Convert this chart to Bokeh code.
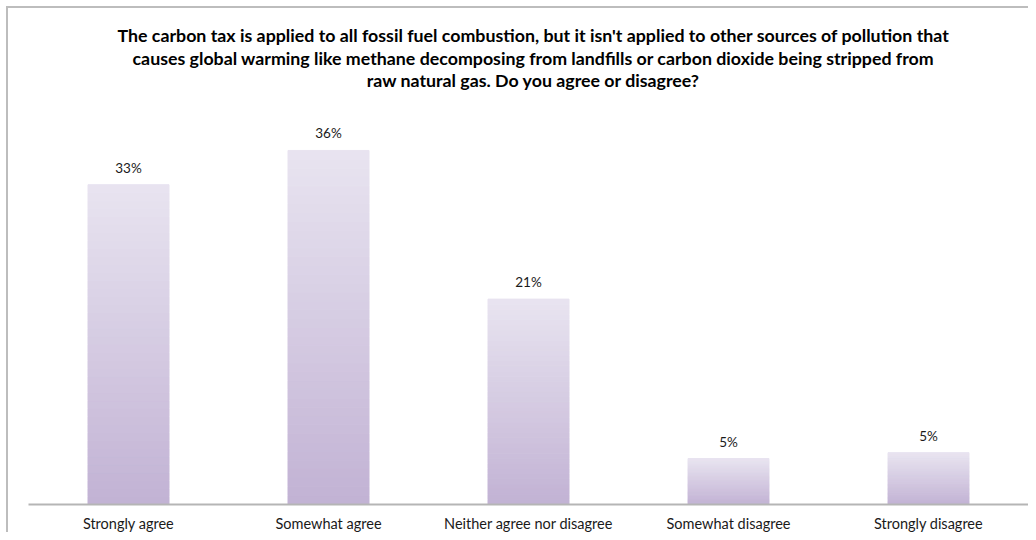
from bokeh.plotting import figure
from bokeh.models import ColumnDataSource, FactorRange, Range1d, Label
from bokeh.core.properties import value
from bokeh.embed import file_html
from bokeh.resources import INLINE

categories = ["Strongly agree", "Somewhat agree", "Neither agree nor disagree",
              "Somewhat disagree", "Strongly disagree"]
shares = [32.7, 36.2, 21.0, 4.7, 5.3]
title_lines = [
    "The carbon tax is applied to all fossil fuel combustion, but it isn't applied to other sources of pollution that",
    "causes global warming like methane decomposing from landfills or carbon dioxide being stripped from",
    "raw natural gas. Do you agree or disagree?",
]

FONT = "Lato"
PX_PER_UNIT = 9.78
FRAME_H = 496

p = figure(x_range=FactorRange(factors=categories, range_padding=0),
           y_range=Range1d(0, FRAME_H / PX_PER_UNIT),
           width=1022, height=526, output_backend="svg", toolbar_location=None,
           min_border_left=20, min_border_right=2, min_border_top=0, min_border_bottom=30)
p.outline_line_color = None
p.xgrid.visible = False
p.ygrid.visible = False
p.yaxis.visible = False
p.xaxis.axis_line_color = "#b5b5b5"
p.xaxis.axis_line_width = 2
p.xaxis.major_tick_line_color = None
p.xaxis.minor_tick_line_color = None
p.xaxis.major_tick_out = 0
p.xaxis.major_label_standoff = 10
p.xaxis.major_label_text_font = FONT
p.xaxis.major_label_text_font_size = "14.5px"
p.xaxis.major_label_text_color = "#1a1a1a"

# gradient bars: stack of thin segments, light at top to darker at bottom
N = 40
top_c = (0xe8, 0xe4, 0xf0)
bot_c = (0xc2, 0xb2, 0xd4)
xs, bots, tops, cols = [], [], [], []
for c, v in zip(categories, shares):
    for i in range(N):
        f = (i + 0.5) / N
        rgb = tuple(int(round(b + (t - b) * f)) for b, t in zip(bot_c, top_c))
        xs.append(c)
        bots.append(v * i / N)
        tops.append(v * (i + 1) / N)
        cols.append("#%02x%02x%02x" % rgb)
seg = ColumnDataSource(dict(x=xs, bottom=bots, top=tops, color=cols))
p.vbar(x="x", bottom="bottom", top="top", width=0.405, color="color", source=seg)

lab = ColumnDataSource(dict(x=categories, y=shares, t=[f"{round(v)}%" for v in shares]))
p.text(x="x", y="y", text="t", source=lab, text_align="center", text_baseline="middle",
       y_offset=-17, text_font=value(FONT), text_font_size="13.5px", text_color="#1a1a1a")

title_y_px = [469.5, 447, 425]
for line, ypx in zip(title_lines, title_y_px):
    p.add_layout(Label(x=2.525, y=ypx / PX_PER_UNIT, text=line, text_align="center",
                       text_baseline="middle", text_font=FONT, text_font_size="17.8px",
                       text_font_style="bold", text_color="#000000"))

p.styles = {"border-top": "2px solid #bdbdbd", "border-left": "2px solid #bdbdbd",
            "border-right": "none", "border-bottom": "none",
            "margin-top": "6px", "margin-left": "6px"}

open("out.html", "w").write(file_html(p, INLINE))
